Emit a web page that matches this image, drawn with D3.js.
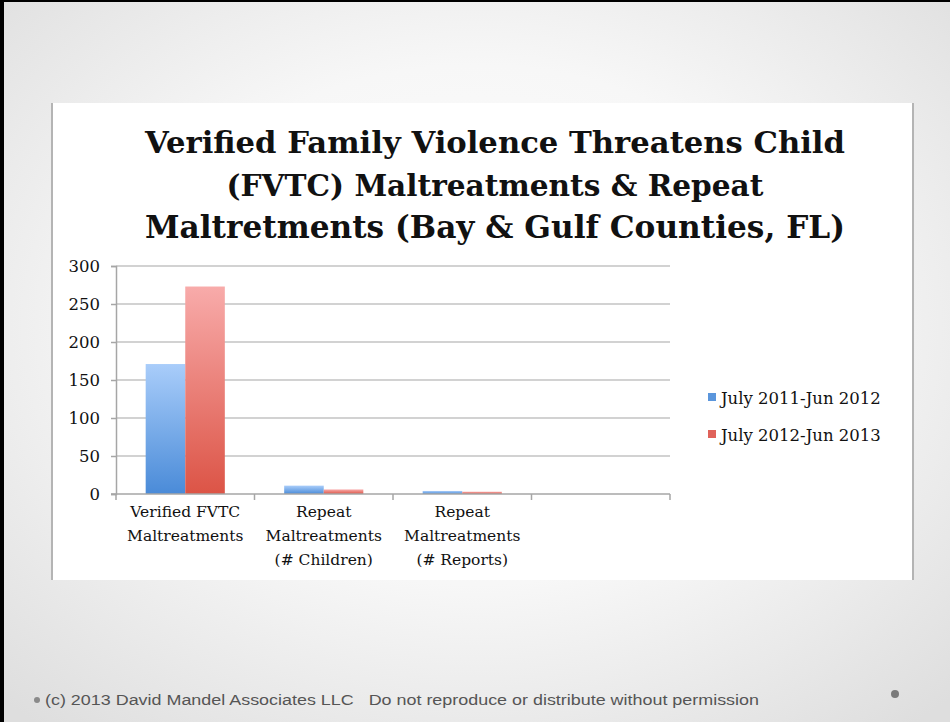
<!DOCTYPE html>
<html>
<head>
<meta charset="utf-8">
<script src="https://cdn.jsdelivr.net/npm/d3@7"></script>
<style>
  html, body { margin: 0; padding: 0; background: #fff; }
  svg { display: block; }
</style>
</head>
<body>
<svg width="950" height="722"></svg>
<script>
const titleLines = [
    'Verified Family Violence Threatens Child',
    '(FVTC) Maltreatments & Repeat',
    'Maltretments (Bay & Gulf Counties, FL)'
];
const categories = ['Verified FVTC Maltreatments', 'Repeat Maltreatments (# Children)', 'Repeat Maltreatments (# Reports)', ''];
const categoryLines = [
    ['Verified FVTC', 'Maltreatments'],
    ['Repeat', 'Maltreatments', '(# Children)'],
    ['Repeat', 'Maltreatments', '(# Reports)'],
    []
];
const seriesNames = ['July 2011-Jun 2012', 'July 2012-Jun 2013'];
const series2011 = [171, 11, 4, null];
const series2012 = [273, 6, 3, null];
const yTicks = [0, 50, 100, 150, 200, 250, 300];
const footerText = '(c) 2013 David Mandel Associates LLC   Do not reproduce or distribute without permission';

const svg = d3.select('svg');
const WIDTH = 950, HEIGHT = 722;
const serif = '"DejaVu Serif", "Liberation Serif", serif';

const defs = svg.append('defs');
const bg = defs.append('radialGradient').attr('id', 'bg')
    .attr('cx', '0.5').attr('cy', '0.45').attr('r', '0.72');
bg.append('stop').attr('offset', '0%').attr('stop-color', '#ffffff');
bg.append('stop').attr('offset', '50%').attr('stop-color', '#f7f7f7');
bg.append('stop').attr('offset', '100%').attr('stop-color', '#dedede');

const barGrads = [
    ['#a9cdfa', '#4a8bd8'],
    ['#f8abaa', '#dc5446']
];
barGrads.forEach((c, i) => {
    const g = defs.append('linearGradient').attr('id', `bar${i}`)
        .attr('x1', 0).attr('y1', 0).attr('x2', 0).attr('y2', 1);
    g.append('stop').attr('offset', '0%').attr('stop-color', c[0]);
    g.append('stop').attr('offset', '100%').attr('stop-color', c[1]);
});
const legendColors = ['#5b96dc', '#e0625a'];

// slide background
svg.append('rect').attr('width', WIDTH).attr('height', HEIGHT).attr('fill', 'url(#bg)');
svg.append('rect').attr('x', 0).attr('y', 0).attr('width', WIDTH).attr('height', 2).attr('fill', '#000');
svg.append('rect').attr('x', 0).attr('y', 0).attr('width', 4).attr('height', HEIGHT).attr('fill', '#000');

// chart panel
const panel = { x: 51, y: 103, w: 862, h: 477 };
svg.append('rect').attr('x', panel.x).attr('y', panel.y).attr('width', panel.w).attr('height', panel.h).attr('fill', '#fff');
svg.append('line').attr('x1', panel.x + 1).attr('x2', panel.x + 1).attr('y1', panel.y).attr('y2', panel.y + panel.h)
    .attr('stroke', '#b4b4b4').attr('stroke-width', 2);
svg.append('line').attr('x1', panel.x + panel.w).attr('x2', panel.x + panel.w).attr('y1', panel.y).attr('y2', panel.y + panel.h)
    .attr('stroke', '#b4b4b4').attr('stroke-width', 2);

// title
const fitText = (sel, target) => {
    const w = sel.node().getComputedTextLength();
    const fs = parseFloat(sel.attr('font-size'));
    sel.attr('font-size', fs * target / w);
};
const titleY = [153, 196, 238];
const titleW = [700, 537, 700];
titleLines.forEach((t, i) => {
    const txt = svg.append('text')
        .attr('x', 495).attr('y', titleY[i])
        .attr('text-anchor', 'middle')
        .attr('font-family', serif).attr('font-weight', 'bold')
        .attr('font-size', 28).attr('fill', '#111')
        .text(t);
    fitText(txt, titleW[i]);
});

// plot area
const plot = { left: 116, right: 670, top: 266, bottom: 494 };
const x = d3.scaleBand().domain(categories.map((c, i) => i)).range([plot.left, plot.right]).paddingInner(0).paddingOuter(0);
const x1 = d3.scaleBand().domain([0, 1]).range([0, x.bandwidth()]).paddingOuter(0.75).paddingInner(0);
const y = d3.scaleLinear().domain([0, 300]).range([plot.bottom, plot.top]);

const g = svg.append('g');
g.selectAll('.grid').data(yTicks.slice(1)).join('line')
    .attr('class', 'grid')
    .attr('x1', plot.left).attr('x2', plot.right)
    .attr('y1', d => y(d)).attr('y2', d => y(d))
    .attr('stroke', '#a6a6a6').attr('stroke-width', 1.2);

const yAxis = g.append('g').attr('transform', `translate(${plot.left},0)`)
    .call(d3.axisLeft(y).tickValues(yTicks).tickSize(5).tickPadding(11));
yAxis.select('.domain').attr('stroke', '#a6a6a6').attr('stroke-width', 1.5);
yAxis.selectAll('.tick line').attr('stroke', '#a6a6a6').attr('stroke-width', 1.5);
yAxis.selectAll('.tick text').attr('font-family', serif).attr('font-size', 16.5).attr('fill', '#111');

const data = [series2011, series2012];
data.forEach((s, si) => {
    g.selectAll(`.bar${si}`).data(s.map((v, i) => ({ v, i })).filter(d => d.v != null)).join('rect')
        .attr('class', `bar${si}`)
        .attr('x', d => x(d.i) + x1(si))
        .attr('width', x1.bandwidth())
        .attr('y', d => y(d.v))
        .attr('height', d => y(0) - y(d.v))
        .attr('fill', `url(#bar${si})`);
});

// x axis
g.append('line').attr('x1', plot.left - 5).attr('x2', plot.right)
    .attr('y1', plot.bottom).attr('y2', plot.bottom)
    .attr('stroke', '#a6a6a6').attr('stroke-width', 1.5);
const boundaries = categories.map((c, i) => x(i)).concat([plot.right]);
g.selectAll('.xtick').data(boundaries).join('line')
    .attr('class', 'xtick')
    .attr('x1', d => d).attr('x2', d => d)
    .attr('y1', plot.bottom).attr('y2', plot.bottom + 6)
    .attr('stroke', '#a6a6a6').attr('stroke-width', 1.5);

categoryLines.forEach((lines, i) => {
    lines.forEach((l, li) => {
        g.append('text')
            .attr('x', x(i) + x.bandwidth() / 2)
            .attr('y', 517 + li * 24)
            .attr('text-anchor', 'middle')
            .attr('font-family', serif).attr('font-size', 15.5).attr('fill', '#111')
            .text(l);
    });
});

// legend
const legendY = [397, 434];
seriesNames.forEach((n, i) => {
    svg.append('rect').attr('x', 708).attr('y', legendY[i] - 4).attr('width', 8).attr('height', 8)
        .attr('fill', legendColors[i]);
    svg.append('text').attr('x', 721).attr('y', legendY[i] + 7)
        .attr('font-family', serif).attr('font-size', 16.5).attr('fill', '#111')
        .text(n);
});

// footer
svg.append('circle').attr('cx', 37).attr('cy', 700).attr('r', 3).attr('fill', '#8a8a8a');
const foot = svg.append('text').attr('x', 45).attr('y', 705)
    .attr('font-family', '"Liberation Sans", "DejaVu Sans", sans-serif')
    .attr('font-size', 14).attr('fill', '#555')
    .style('white-space', 'pre')
    .text(footerText);
foot.attr('textLength', 714).attr('lengthAdjust', 'spacingAndGlyphs');
svg.append('circle').attr('cx', 895).attr('cy', 694).attr('r', 4).attr('fill', '#7a7a7a');
</script>
</body>
</html>
